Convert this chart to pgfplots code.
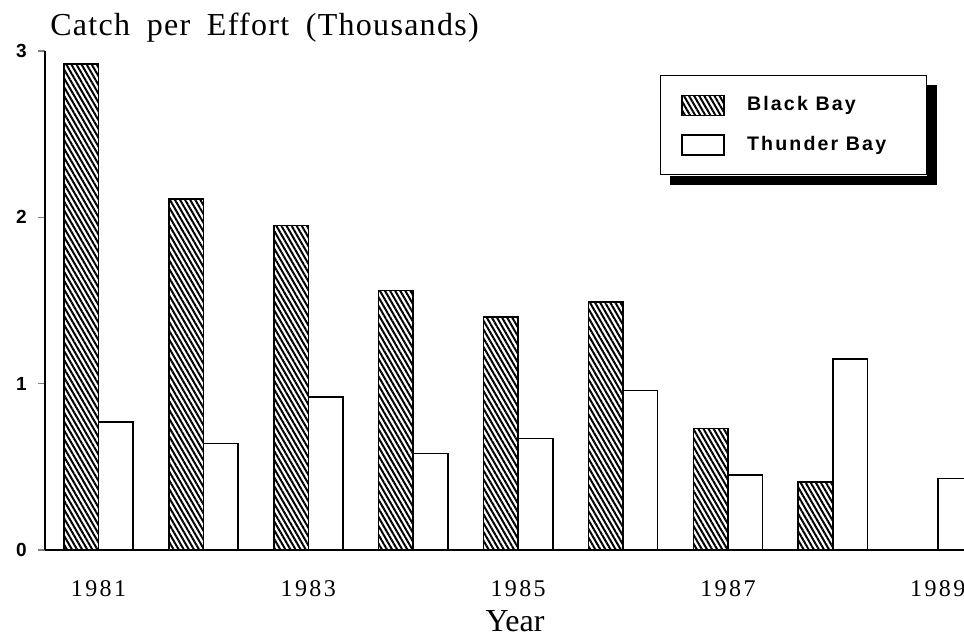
\documentclass[border=0pt]{standalone}
\usepackage{fontspec}
\setmainfont{Liberation Serif}
\newfontfamily\titlefont{Liberation Serif}[LetterSpace=4, WordSpace=1.8]
\newfontfamily\tickfont{Liberation Serif}[LetterSpace=10]
\newfontfamily\sansbold{Liberation Sans Bold}[LetterSpace=11]
\usepackage{pgfplots}
\pgfplotsset{compat=1.18}
\usetikzlibrary{patterns.meta}
\begin{document}
\begin{tikzpicture}
\path[use as bounding box] (-22.5pt,-43pt) rectangle (459.5pt,275pt);
\begin{axis}[
  scale only axis, width=459.5pt, height=249.5pt,
  xmin=1980.49, xmax=1989.25, ymin=0, ymax=3,
  axis lines=left, axis line style={-, line width=0.8pt},
  ytick={0,1,2,3}, yticklabels={0,1,2,3},
  xtick={1981,1983,1985,1987,1989}, xticklabels={1981,1983,1985,1987,1989},
  tick align=outside, major tick length=3.5pt,
  xtick style={draw=none},
  ytick style={line width=0.6pt},
  yticklabel style={font=\fontsize{9.5}{9.5}\sansbold, inner sep=0pt, xshift=-5.5pt},
  xticklabel style={font=\fontsize{12}{12}\tickfont, anchor=base, yshift=-20pt},
  ybar, bar width=0.33,
  legend style={name=leg, at={(0.669,0.952)}, anchor=north west, draw=black, line width=0.6pt,
    fill=white, inner xsep=10.5pt, inner ysep=9.5pt, row sep=9pt, column sep=11pt,
    font=\fontsize{9.8}{10}\sansbold,
    nodes={inner sep=0pt}},
  legend cell align=left,
  legend image code/.code={\draw[#1] (0pt,-5pt) rectangle (21pt,5pt);},
]
\addplot[bar shift=-0.165, draw=black, line width=0.8pt,
  pattern={Lines[angle=-60,distance=2.2pt,line width=1pt]}]
  coordinates {(1981,2.92) (1982,2.11) (1983,1.95) (1984,1.56) (1985,1.40) (1986,1.49) (1987,0.73) (1988,0.41)};
\addlegendentry{Black Bay}
\addplot[bar shift=0.165, draw=black, fill=white, line width=0.8pt]
  coordinates {(1981,0.77) (1982,0.64) (1983,0.92) (1984,0.58) (1985,0.67) (1986,0.96) (1987,0.45) (1988,1.15) (1989,0.43)};
\addlegendentry{Thunder Bay\kern9.5pt}
\end{axis}
% legend drop shadow (right and bottom strips)
\fill[black] ([xshift=0.3pt,yshift=-5pt]leg.north east) rectangle ([xshift=5pt,yshift=-5pt]leg.south east);
\fill[black] ([xshift=5pt,yshift=-0.3pt]leg.south west) rectangle ([xshift=5pt,yshift=-5pt]leg.south east);
\node[anchor=base west, inner sep=0pt, font=\fontsize{16}{16}\titlefont] at (2.5pt,257pt) {Catch per Effort (Thousands)};
\node[anchor=base, inner sep=0pt, font=\fontsize{16}{16}\selectfont] at (235pt,-41pt) {Year};
\end{tikzpicture}
\end{document}
